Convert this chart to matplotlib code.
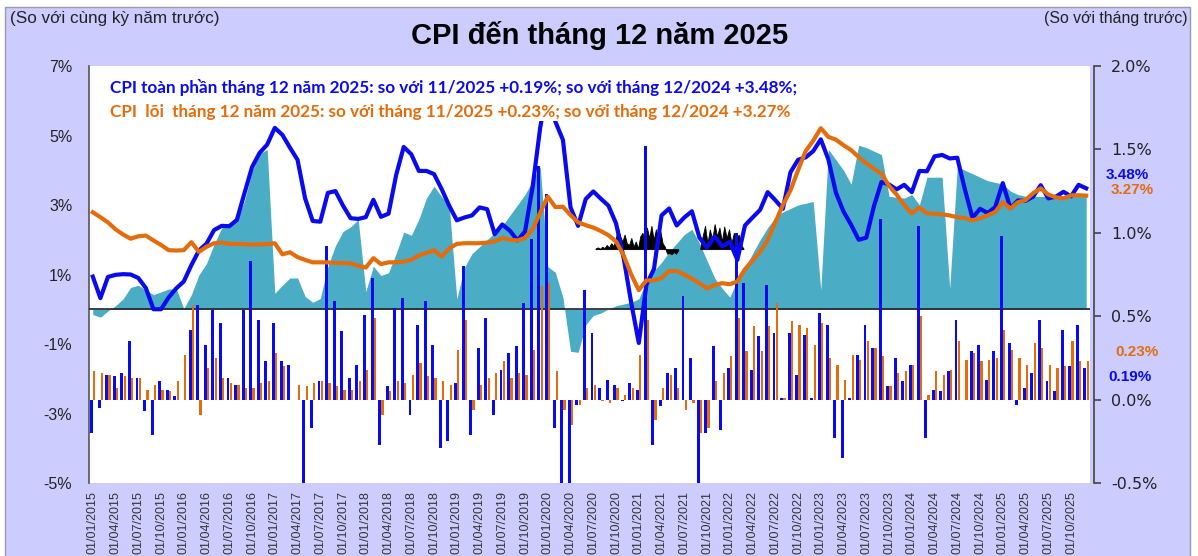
import numpy as np
import pandas as pd
import matplotlib
matplotlib.use("Agg")
import matplotlib.pyplot as plt
from matplotlib.patches import Rectangle
from matplotlib.ticker import FuncFormatter

# ---------------- data ----------------
months = pd.date_range("2015-01-01", "2025-12-01", freq="MS")
tick_labels = [d.strftime("01/%m/%Y") for d in months[::3]]

# CPI year-on-year (%), left axis
cpi_yoy = [0.94, 0.32, 0.93, 0.99, 1.01, 1.00, 0.90, 0.61, 0.00, 0.00, 0.34, 0.60,
           0.80, 1.27, 1.69, 1.89, 2.28, 2.40, 2.39, 2.57, 3.34, 4.09, 4.50, 4.74,
           5.22, 5.02, 4.65, 4.30, 3.19, 2.54, 2.52, 3.35, 3.40, 2.98, 2.62, 2.60,
           2.65, 3.15, 2.66, 2.75, 3.86, 4.67, 4.46, 3.98, 3.98, 3.89, 3.46, 2.98,
           2.56, 2.64, 2.70, 2.93, 2.88, 2.16, 2.44, 2.26, 1.98, 2.24, 3.52, 5.23,
           6.43, 5.40, 4.87, 2.93, 2.40, 3.17, 3.39, 3.18, 2.98, 2.47, 1.48, 0.19,
           -0.97, 0.70, 1.16, 2.70, 2.90, 2.41, 2.64, 2.82, 2.06, 1.77, 2.10, 1.81,
           1.94, 1.42, 2.41, 2.64, 2.86, 3.37, 3.14, 2.89, 3.94, 4.30, 4.37, 4.55,
           4.89, 4.31, 3.35, 2.81, 2.43, 2.00, 2.06, 2.96, 3.66, 3.59, 3.45, 3.58,
           3.37, 3.98, 3.97, 4.40, 4.44, 4.34, 4.36, 3.45, 2.63, 2.89, 2.77, 2.94,
           3.63, 2.91, 3.13, 3.12, 3.24, 3.57, 3.19, 3.24, 3.38, 3.25, 3.58, 3.48]

# core CPI year-on-year (%), left axis
core_yoy = [2.79, 2.65, 2.50, 2.30, 2.15, 2.03, 2.10, 2.12, 1.98, 1.85, 1.70, 1.69,
            1.70, 1.93, 1.65, 1.80, 1.90, 1.92, 1.88, 1.88, 1.87, 1.86, 1.87, 1.87,
            1.90, 1.58, 1.64, 1.50, 1.42, 1.35, 1.35, 1.35, 1.33, 1.33, 1.32, 1.25,
            1.20, 1.47, 1.30, 1.35, 1.35, 1.37, 1.42, 1.55, 1.62, 1.70, 1.52, 1.75,
            1.88, 1.90, 1.90, 1.90, 1.92, 1.95, 2.05, 2.00, 1.98, 2.05, 2.30, 2.78,
            3.24, 2.94, 2.95, 2.71, 2.50, 2.42, 2.35, 2.25, 2.13, 1.95, 1.55, 1.00,
            0.55, 0.83, 0.83, 0.90, 1.10, 1.10, 1.00, 0.88, 0.75, 0.60, 0.70, 0.75,
            0.72, 0.80, 1.15, 1.40, 1.65, 2.00, 2.50, 3.00, 3.42, 4.00, 4.55, 4.85,
            5.21, 4.96, 4.88, 4.72, 4.58, 4.38, 4.20, 4.05, 3.90, 3.55, 3.30, 3.00,
            2.76, 2.93, 2.76, 2.75, 2.73, 2.70, 2.65, 2.62, 2.56, 2.62, 2.70, 2.80,
            3.08, 2.90, 3.08, 3.14, 3.34, 3.48, 3.30, 3.22, 3.19, 3.28, 3.28, 3.27]

# shaded series (%), left axis
teal_area = [-0.15, -0.23, -0.05, 0.10, 0.30, 0.63, 0.69, 0.55, 0.42, 0.50, 0.58, 0.60,
             0.02, 0.42, 0.99, 1.32, 1.87, 2.34, 2.47, 2.57, 3.12, 3.97, 4.47, 4.60,
             0.46, 0.69, 0.90, 0.90, 0.37, 0.20, 0.31, 1.23, 1.83, 2.24, 2.37, 2.58,
             0.51, 1.24, 0.97, 1.05, 1.60, 2.22, 2.13, 2.59, 3.20, 3.54, 3.24, 2.98,
             0.30, 1.20, 1.60, 1.80, 2.00, 2.20, 2.40, 2.70, 3.00, 3.30, 3.70, 4.10,
             1.23, 1.06, 0.33, -1.21, -1.24, -0.45, -0.18, -0.11, 0.01, 0.10, 0.15, 0.20,
             0.30, 0.80, 1.10, 1.35, 1.65, 1.90, 2.15, 2.30, 1.90, 1.40, 0.90, 0.60,
             0.35, 0.83, 1.20, 1.60, 2.00, 2.35, 2.65, 2.80, 2.90, 3.00, 3.05, 3.10,
             0.55, 4.60, 4.30, 4.00, 3.60, 4.72, 4.65, 4.55, 4.45, 3.25, 3.22, 3.20,
             3.30, 3.00, 3.80, 3.80, 3.80, 0.60, 4.10, 4.00, 3.90, 3.80, 3.70, 3.65,
             3.60, 3.40, 3.30, 3.25, 3.25, 3.25, 3.25, 3.25, 3.25, 3.25, 3.25, 3.25]

# CPI month-on-month (%), right axis
cpi_mom = [-0.20, -0.05, 0.15, 0.14, 0.16, 0.35, 0.13, -0.07, -0.21, 0.11, 0.06, 0.02,
           0.00, 0.42, 0.57, 0.33, 0.54, 0.46, 0.13, 0.09, 0.54, 0.83, 0.48, 0.23,
           0.46, 0.23, 0.21, 0.00, -0.53, -0.17, 0.11, 0.92, 0.59, 0.41, 0.13, 0.21,
           0.51, 0.73, -0.27, 0.08, 0.55, 0.61, -0.09, 0.45, 0.59, 0.33, -0.29, -0.25,
           0.10, 0.80, -0.21, 0.31, 0.49, -0.09, 0.18, 0.28, 0.32, 0.58, 0.96, 1.40,
           1.23, -0.17, -0.72, -1.54, -0.03, 0.66, 0.40, 0.07, 0.12, 0.09, -0.01, 0.10,
           0.06, 1.52, -0.27, -0.04, 0.16, 0.19, 0.62, 0.25, -0.62, -0.20, 0.32, -0.18,
           0.19, 1.00, 0.70, 0.18, 0.38, 0.69, 0.40, 0.01, 0.40, 0.15, 0.39, 0.01,
           0.52, 0.45, -0.23, -0.35, 0.01, 0.27, 0.45, 0.31, 1.08, 0.08, 0.25, 0.11,
           0.21, 1.04, -0.23, 0.06, 0.05, 0.17, 0.48, 0.00, 0.29, 0.33, 0.12, 0.29,
           0.98, 0.34, -0.03, 0.07, 0.16, 0.48, 0.11, 0.05, 0.42, 0.20, 0.45, 0.19]

# core CPI month-on-month (%), right axis
core_mom = [0.17, 0.16, 0.15, 0.07, 0.14, 0.13, 0.13, 0.06, 0.09, 0.06, 0.05, 0.11,
            0.27, 0.57, -0.09, 0.19, 0.25, 0.13, 0.10, 0.09, 0.07, 0.07, 0.10, 0.11,
            0.28, 0.20, 0.00, 0.09, 0.08, 0.10, 0.11, 0.10, 0.08, 0.06, 0.06, 0.11,
            0.18, 0.49, -0.09, 0.05, 0.11, 0.10, 0.15, 0.22, 0.14, 0.13, 0.11, 0.09,
            0.30, 0.48, -0.06, 0.09, 0.13, 0.16, 0.23, 0.13, 0.16, 0.15, 0.30, 0.68,
            0.70, 0.17, -0.06, -0.15, -0.03, 0.07, 0.09, -0.01, -0.02, 0.07, 0.03, 0.07,
            0.27, 0.48, -0.12, 0.07, 0.15, 0.07, -0.06, -0.02, -0.20, -0.17, 0.11, 0.16,
            0.26, 0.49, 0.29, 0.44, 0.29, 0.44, 0.58, 0.01, 0.47, 0.45, 0.43, 0.33,
            0.46, 0.25, 0.21, 0.12, 0.27, 0.24, 0.35, 0.31, 0.26, 0.08, 0.16, 0.17,
            0.21, 0.50, 0.03, 0.17, 0.15, 0.18, 0.35, 0.24, 0.28, 0.23, 0.24, 0.25,
            0.42, 0.30, 0.25, 0.21, 0.34, 0.31, 0.21, 0.19, 0.20, 0.35, 0.23, 0.23]

# small black artefact series (%), left axis, two segments (month-index span)
black_a_span = (66.3, 77.2)
black_a = [1.75, 1.78, 1.74, 1.80, 1.76, 1.85, 1.78, 1.90, 1.82, 2.00, 2.36, 2.10, 1.95,
           2.15, 1.90, 1.85, 2.05, 1.80, 1.95, 1.75, 2.10, 2.20, 1.90, 2.35, 2.05, 2.40,
           2.00, 2.30, 1.95, 2.25, 1.90, 1.80, 1.60, 1.62, 1.58, 1.65, 1.60, 1.70]
black_b_span = (80.1, 85.8)
black_b = [1.75, 2.10, 2.40, 1.90, 2.30, 2.00, 2.45, 2.10, 2.35, 1.95, 2.38, 2.05, 2.30,
           1.90, 2.20, 2.00, 2.15, 1.85, 1.75]
black_base = 1.73

title = "CPI đến tháng 12 năm 2025"
left_note = "(So với cùng kỳ năm trước)"
right_note = "(So với tháng trước)"
note_cpi = "CPI toàn phần tháng 12 năm 2025: so với 11/2025 +0.19%; so với tháng 12/2024 +3.48%;"
note_core = "CPI  lõi  tháng 12 năm 2025: so với tháng 11/2025 +0.23%; so với tháng 12/2024 +3.27%"

# ---------------- style ----------------
BLUE = "#0A0AF0"
ORANGE = "#E46C0A"
TEAL = "#4BACC6"
LAV = "#CCCCFF"
FONT = "Liberation Sans"

W, H = 1198, 556
fig = plt.figure(figsize=(W / 100, H / 100), dpi=100, facecolor="white")
fig.patches.append(Rectangle((5 / W, -0.02), (1190 - 5) / W, 1 - 7 / H + 0.02,
                             transform=fig.transFigure, facecolor=LAV,
                             edgecolor="#9A9AA8", lw=1.0, zorder=-10))

pos = [89 / W, 1 - 483 / H, (1090 - 89) / W, (483 - 66) / H]
ax = fig.add_axes(pos)
ax.set_facecolor("white")
x = np.arange(len(months))

ax.fill_between(x, 0, teal_area, color=TEAL, lw=0, zorder=1)
xa = np.linspace(*black_a_span, len(black_a))
xb = np.linspace(*black_b_span, len(black_b))
ax.fill_between(xa, black_base, black_a, color="black", lw=0.6, zorder=2)
ax.fill_between(xb, black_base, black_b, color="black", lw=0.6, zorder=2)
ax.axhline(0, color="#202020", lw=1.2, zorder=3)

ax.set_xlim(-0.5, len(months) - 0.5)
ax.set_ylim(-5, 7)
ax.set_yticks(np.arange(-5, 8, 2))
ax.yaxis.set_major_formatter(FuncFormatter(lambda v, p: f"{v:.0f}%"))
ax.tick_params(axis="y", length=0, pad=12, labelsize=11.5, labelcolor="#222222")
for t in ax.get_yticklabels():
    t.set_fontfamily(FONT)
ax.set_xticks(x[::3])
ax.set_xticklabels(tick_labels, rotation=90, fontsize=9, fontfamily=FONT, color="#333333")
ax.tick_params(axis="x", length=0, pad=6)
for s in ["top", "right", "bottom"]:
    ax.spines[s].set_visible(False)
ax.spines["left"].set_color("#555555")
ax.spines["left"].set_linewidth(1.2)

# bars on right axis
ax2 = ax.twinx()
ax2.patch.set_visible(False)
ax2.bar(x - 0.17, cpi_mom, width=0.38, color=BLUE, lw=0, zorder=2)
ax2.bar(x + 0.2, core_mom, width=0.3, color=ORANGE, lw=0, zorder=2)
ax2.set_ylim(-0.5, 2.0)
ax2.set_yticks(np.arange(-0.5, 2.01, 0.5))
ax2.yaxis.set_major_formatter(FuncFormatter(lambda v, p: f"{v:.1f}%"))
ax2.tick_params(axis="y", length=5, width=1.2, pad=7, labelsize=11.5,
                labelcolor="#222222", color="#444444")
for t in ax2.get_yticklabels():
    t.set_fontfamily(FONT)
for s in ["top", "left", "bottom"]:
    ax2.spines[s].set_visible(False)
ax2.spines["right"].set_color("#444444")
ax2.spines["right"].set_linewidth(1.2)
ax2.spines["right"].set_position(("outward", 3))

# lines on top, left scale
ax3 = ax.twinx()
ax3.patch.set_visible(False)
ax3.set_ylim(-5, 7)
ax3.plot(x, cpi_yoy, color=BLUE, lw=3.0, solid_joinstyle="round", zorder=3)
ax3.plot(x, core_yoy, color=ORANGE, lw=3.0, solid_joinstyle="round", zorder=4)
ax3.set_yticks([])
for s in ax3.spines.values():
    s.set_visible(False)

# white box behind notes (axes fraction)
ax3.add_patch(Rectangle(((100 - 89) / 1001, (483 - 121) / 417),
                        (822 - 100) / 1001, (121 - 73) / 417, transform=ax3.transAxes,
                        facecolor="white", edgecolor="none", zorder=9))

fig.text(110 / W, 1 - 88 / H, note_cpi, fontsize=12.3, fontweight="bold",
         fontfamily="Lato", color=BLUE, va="center", ha="left", zorder=10)
fig.text(110 / W, 1 - 112 / H, note_core, fontsize=12.3, fontweight="bold",
         fontfamily="Lato", color=ORANGE, va="center", ha="left", zorder=10)

fig.text(600 / W, 1 - 35 / H, title, ha="center", va="center", fontsize=21,
         fontweight="bold", fontfamily=FONT, color="black")
fig.text(10 / W, 1 - 19 / H, left_note, ha="left", va="center", fontsize=12.3,
         fontfamily=FONT, color="#222222")
fig.text(1188 / W, 1 - 19 / H, right_note, ha="right", va="center", fontsize=11.4,
         fontfamily=FONT, color="#222222")

fig.text(1127 / W, 1 - 175 / H, f"{cpi_yoy[-1]:.2f}%", ha="center", va="center",
         fontsize=11, fontweight="bold", fontfamily=FONT, color=BLUE)
fig.text(1132 / W, 1 - 190 / H, f"{core_yoy[-1]:.2f}%", ha="center", va="center",
         fontsize=11, fontweight="bold", fontfamily=FONT, color=ORANGE)
fig.text(1137 / W, 1 - 352 / H, f"{core_mom[-1]:.2f}%", ha="center", va="center",
         fontsize=11, fontweight="bold", fontfamily=FONT, color=ORANGE)
fig.text(1130 / W, 1 - 377 / H, f"{cpi_mom[-1]:.2f}%", ha="center", va="center",
         fontsize=11, fontweight="bold", fontfamily=FONT, color=BLUE)

fig.savefig("out.png", dpi=100, facecolor=fig.get_facecolor())
